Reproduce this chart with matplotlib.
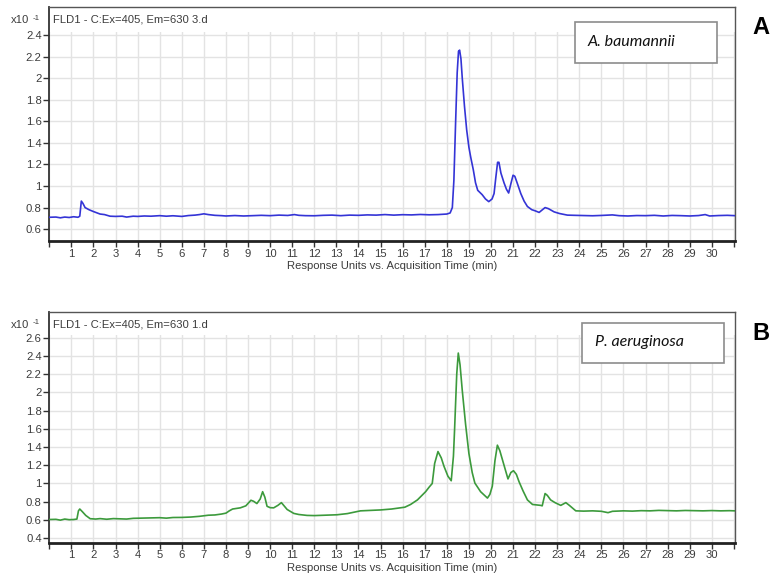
import matplotlib
matplotlib.use("Agg")
from matplotlib import pyplot as plt
from matplotlib.patches import Rectangle

# retention time (min) and fluorescence response (x10^-1)
t_a = [0.0, 0.3, 0.5, 0.7, 0.9, 1.1, 1.3, 1.38, 1.45, 1.52, 1.62, 1.8, 2.0, 2.3,
       2.5, 2.75, 3.0, 3.3, 3.5, 3.8, 4.0, 4.3, 4.6, 5.0, 5.3, 5.6, 6.0, 6.3,
       6.6, 6.8, 7.0, 7.2, 7.5, 7.8, 8.0, 8.4, 8.8, 9.2, 9.6, 10.0, 10.4, 10.8,
       11.1, 11.3, 11.6, 12.0, 12.4, 12.8, 13.2, 13.6, 14.0, 14.4, 14.8, 15.2,
       15.6, 16.0, 16.4, 16.8, 17.2, 17.6, 18.0, 18.15, 18.25, 18.32, 18.4,
       18.47, 18.53, 18.58, 18.64, 18.7, 18.8, 18.9, 19.0, 19.08, 19.2, 19.3,
       19.4, 19.5, 19.6, 19.75, 19.9, 20.05, 20.14, 20.22, 20.3, 20.36, 20.45,
       20.59, 20.7, 20.8, 20.9, 21.0, 21.08, 21.2, 21.35, 21.5, 21.65, 21.85,
       22.0, 22.18, 22.3, 22.45, 22.6, 22.86, 23.1, 23.46, 23.8, 24.2, 24.6,
       25.0, 25.5, 25.8, 26.2, 26.6, 27.0, 27.4, 27.8, 28.2, 28.6, 29.0, 29.4,
       29.7, 29.9, 30.3, 30.7, 31.05]
fl_a = [0.71, 0.712, 0.705, 0.712, 0.708, 0.715, 0.71, 0.72, 0.86, 0.84, 0.80,
        0.78, 0.763, 0.74, 0.735, 0.72, 0.718, 0.72, 0.712, 0.72, 0.718, 0.722,
        0.72, 0.725, 0.72, 0.724, 0.718, 0.726, 0.73, 0.735, 0.742, 0.735,
        0.728, 0.725, 0.722, 0.726, 0.722, 0.725, 0.728, 0.725, 0.73, 0.727,
        0.735, 0.728, 0.725, 0.724, 0.728, 0.73, 0.725, 0.73, 0.728, 0.732,
        0.73, 0.735, 0.73, 0.734, 0.732, 0.736, 0.733, 0.735, 0.74, 0.75, 0.80,
        1.05, 1.60, 2.05, 2.25, 2.26, 2.18, 2.0, 1.74, 1.52, 1.36, 1.27, 1.15,
        1.03, 0.96, 0.94, 0.92, 0.88, 0.855, 0.88, 0.93, 1.08, 1.22, 1.22,
        1.12, 1.03, 0.97, 0.935, 1.02, 1.10, 1.09, 1.02, 0.93, 0.86, 0.81,
        0.78, 0.77, 0.755, 0.775, 0.80, 0.79, 0.76, 0.745, 0.73, 0.728, 0.726,
        0.724, 0.727, 0.732, 0.725, 0.722, 0.726, 0.725, 0.728, 0.722, 0.727,
        0.725, 0.722, 0.726, 0.735, 0.722, 0.726, 0.728, 0.725]

t_b = [0.0, 0.3, 0.5, 0.7, 0.9, 1.1, 1.25, 1.32, 1.38, 1.5, 1.65, 1.85, 2.1,
       2.3, 2.6, 2.9, 3.2, 3.5, 3.8, 4.2, 4.6, 5.0, 5.3, 5.6, 6.0, 6.4, 6.8,
       7.2, 7.5, 7.8, 8.0, 8.15, 8.3, 8.65, 8.9, 9.13, 9.25, 9.4, 9.55, 9.66,
       9.76, 9.86, 10.0, 10.16, 10.35, 10.51, 10.65, 10.77, 11.07, 11.3, 11.67,
       12.0, 12.5, 13.03, 13.5, 14.09, 14.5, 15.0, 15.5, 15.9, 16.1, 16.36,
       16.67, 17.04, 17.2, 17.34, 17.45, 17.6, 17.75, 17.87, 18.05, 18.2, 18.3,
       18.35, 18.45, 18.52, 18.6, 18.7, 18.85, 19.0, 19.15, 19.27, 19.53,
       19.84, 19.95, 20.06, 20.18, 20.29, 20.4, 20.52, 20.65, 20.77, 20.9,
       21.02, 21.15, 21.27, 21.45, 21.65, 21.88, 22.25, 22.32, 22.45, 22.55,
       22.7, 22.9, 23.16, 23.39, 23.55, 23.84, 24.2, 24.6, 25.0, 25.3, 25.5,
       26.0, 26.4, 26.8, 27.2, 27.6, 28.0, 28.4, 28.8, 29.2, 29.6, 30.0, 30.4,
       30.8, 31.05]
fl_b = [0.605, 0.607, 0.598, 0.61, 0.603, 0.605, 0.61, 0.70, 0.72, 0.69, 0.65,
        0.614, 0.61, 0.615, 0.608, 0.615, 0.612, 0.61, 0.618, 0.62, 0.622,
        0.625, 0.62, 0.627, 0.628, 0.632, 0.64, 0.652, 0.655, 0.665, 0.675,
        0.70, 0.72, 0.733, 0.755, 0.816, 0.805, 0.78, 0.83, 0.91, 0.85, 0.75,
        0.735, 0.733, 0.76, 0.79, 0.75, 0.715, 0.672, 0.66, 0.65, 0.648, 0.652,
        0.657, 0.67, 0.70, 0.705, 0.71, 0.72, 0.733, 0.74, 0.77, 0.82, 0.91,
        0.96, 1.0, 1.22, 1.35, 1.28, 1.19, 1.08, 1.03, 1.30, 1.58, 2.20, 2.43,
        2.30, 2.02, 1.65, 1.33, 1.12, 1.005, 0.91, 0.84, 0.88, 0.97, 1.25,
        1.42, 1.36, 1.26, 1.15, 1.05, 1.12, 1.14, 1.10, 1.02, 0.92, 0.82, 0.77,
        0.76, 0.755, 0.89, 0.87, 0.82, 0.79, 0.76, 0.79, 0.76, 0.70, 0.697,
        0.70, 0.695, 0.68, 0.695, 0.70, 0.697, 0.702, 0.70, 0.705, 0.703, 0.70,
        0.704, 0.702, 0.70, 0.703, 0.70, 0.702, 0.70]

yticks_a = [0.6, 0.8, 1, 1.2, 1.4, 1.6, 1.8, 2, 2.2, 2.4]
yticks_b = [0.4, 0.6, 0.8, 1, 1.2, 1.4, 1.6, 1.8, 2, 2.2, 2.4, 2.6]
xticks = list(range(0, 32))
xticklabels = ["" if (x == 0 or x == 31) else str(x) for x in xticks]

W, H = 775, 583
FONT = "Liberation Sans"
TXT = "#3c3c3c"
FS = 8.1


def fx(px):
    return px / W


def fy(py):
    return 1 - py / H


def draw_panel(fig, rect_px, t, v, color, ylim, yticks, grid_top, title,
               species, box_px, letter, letter_px):
    left, top, right, bottom = rect_px
    ax = fig.add_axes([fx(left), fy(bottom), fx(right) - fx(left),
                       fy(top) - fy(bottom)])
    ax.plot(t, v, color=color, lw=1.2, zorder=3)
    ax.set_xlim(0, 31.05)
    ax.set_ylim(*ylim)
    ax.set_xticks(xticks)
    ax.set_xticklabels(xticklabels)
    ax.set_yticks(yticks)
    ax.set_yticklabels([f"{y:g}" for y in yticks])
    ax.grid(True, color="#e3e3e3", lw=1.0)
    ax.set_axisbelow(True)
    # blank strip above the grid where the trace title sits
    ax.axhspan(grid_top, ylim[1], color="white", zorder=1.6, lw=0)
    ax.tick_params(axis="both", labelsize=FS, colors="#333333",
                   labelcolor=TXT, length=4, width=1, pad=1.5)
    for lab in ax.get_xticklabels() + ax.get_yticklabels():
        lab.set_fontfamily(FONT)
    for side in ("top", "right"):
        ax.spines[side].set_color("#555555")
        ax.spines[side].set_linewidth(1.0)
    ax.spines["left"].set_color("#333333")
    ax.spines["left"].set_linewidth(1.3)
    ax.spines["bottom"].set_color("#222222")
    ax.spines["bottom"].set_linewidth(2.0)
    ax.set_xlabel("Response Units vs. Acquisition Time (min)", fontsize=FS,
                  family=FONT, color=TXT, labelpad=2)
    fig.text(fx(53), fy(top + 13), title, fontsize=FS, family=FONT,
             color=TXT, va="center")
    fig.text(fx(11), fy(top + 13), "x10", fontsize=FS, family=FONT,
             color=TXT, va="center")
    fig.text(fx(33), fy(top + 11), "-1", fontsize=5.8, family=FONT,
             color=TXT, va="center")
    bx0, by0, bx1, by1 = box_px
    fig.add_artist(Rectangle((fx(bx0), fy(by1)), fx(bx1) - fx(bx0),
                             fy(by0) - fy(by1), transform=fig.transFigure,
                             facecolor="white", edgecolor="#8c8c8c", lw=1.2,
                             zorder=5))
    fig.text(fx(bx0 + 13), fy((by0 + by1) / 2 - 1), species, fontsize=11.5,
             family="Lato", style="italic", color="#111111", va="center",
             zorder=6)
    fig.text(fx(letter_px[0]), fy(letter_px[1]), letter, fontsize=17,
             family=FONT, weight="bold", color="black", va="center",
             ha="center")
    return ax


fig = plt.figure(figsize=(W / 100, H / 100), dpi=100)
draw_panel(fig, (49.3, 7, 735, 241), t_a, fl_a, "#3434d6", (0.49, 2.66),
           yticks_a, 2.43, "FLD1 - C:Ex=405, Em=630 3.d", "A. baumannii",
           (575, 22, 717, 63), "A", (761, 28))
draw_panel(fig, (49.3, 312, 735, 542.5), t_b, fl_b, "#3c9a3c", (0.353, 2.88),
           yticks_b, 2.63, "FLD1 - C:Ex=405, Em=630 1.d", "P. aeruginosa",
           (582, 323, 724, 363), "B", (761, 333))
fig.savefig("out.png", dpi=100)
